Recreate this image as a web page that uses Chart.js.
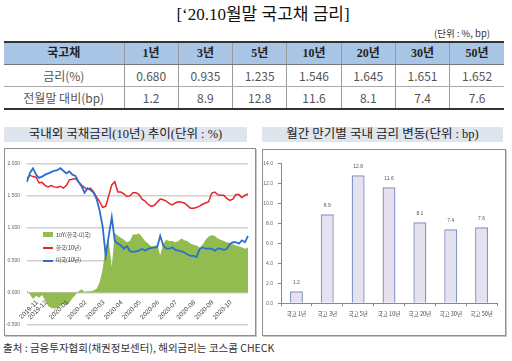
<!DOCTYPE html>
<html><head><meta charset="utf-8">
<script src="https://cdn.jsdelivr.net/npm/chart.js@4.4.0/dist/chart.umd.min.js"></script>
<style>
html,body{margin:0;padding:0;background:#fff;}
#root{position:relative;width:512px;height:361px;overflow:hidden;font-family:"Noto Sans CJK KR",sans-serif;}
.abs{position:absolute;}
#title{left:0;width:526px;top:4px;text-align:center;font-family:"Liberation Serif","Noto Sans CJK KR",serif;font-size:17px;line-height:22px;color:#111;}
#unit{left:434px;top:27px;font-size:9.5px;line-height:12px;color:#333;white-space:nowrap;}
#tbl{left:4px;top:41px;width:500px;border-collapse:collapse;table-layout:fixed;}
#tbl td,#tbl th{padding:0;text-align:center;border-left:1px solid #9a9a9a;font-size:12px;line-height:21px;white-space:nowrap;}
#tbl tr>*:first-child{border-left:none;}
#tbl th{background:#a9c5e6;font-family:"Liberation Serif","Noto Sans CJK KR",serif;font-weight:bold;color:#222;border-top:2px solid #333;border-bottom:1px solid #777;height:21px;}
#tbl td{color:#555;border-bottom:1px solid #aaa;height:21px;}
#tbl tr.last td{border-bottom:2px solid #333;}
.ptitle{top:127px;height:15px;background:#dfe5ee;text-align:center;font-size:12.5px;line-height:15px;color:#222;font-family:"Liberation Serif","Noto Sans CJK KR",serif;white-space:nowrap;}
.box{border:1px solid #8f8f8f;box-shadow:1px 1px 0 #c8c8c8;}
#leg{left:43px;top:229px;font-size:5.5px;line-height:12.5px;color:#333;}
#leg div{position:relative;height:12.5px;padding-left:13px;white-space:nowrap;}
#leg span{position:absolute;left:0;}
#foot{left:3px;top:340px;font-size:10.5px;line-height:15px;color:#333;white-space:nowrap;}
</style></head>
<body>
<div id="root">
  <div id="title" class="abs">[‘20.10월말 국고채 금리]</div>
  <div id="unit" class="abs">(단위 : %, bp)</div>
  <table id="tbl" class="abs">
    <colgroup><col style="width:120px"><col><col><col><col><col><col><col></colgroup>
    <tr id="hdr"></tr>
    <tr id="r1"></tr>
    <tr id="r2" class="last"></tr>
  </table>

  <div class="abs ptitle" style="left:4px;width:243px;">국내외 국채금리(10년) 추이(단위 : %)</div>
  <div class="abs ptitle" style="left:262px;width:241px;">월간 만기별 국내 금리 변동(단위 : bp)</div>

  <div class="abs box" style="left:4px;top:148px;width:250px;height:186px;"></div>
  <div class="abs box" style="left:262px;top:149px;width:242px;height:185px;"></div>

  <div class="abs" style="left:5px;top:149px;width:249px;height:186px;"><canvas id="c1" width="249" height="186"></canvas></div>
  <div class="abs" style="left:263px;top:150px;width:241px;height:185px;"><canvas id="c2" width="241" height="185"></canvas></div>

  <div id="leg" class="abs">
    <div><span style="top:3px;width:10px;height:5px;background:#92bb50;"></span>10Y(한국-미국)</div>
    <div><span style="top:5.5px;width:10px;height:2px;background:#e3262b;"></span>한국(10년)</div>
    <div><span style="top:5.5px;width:10px;height:2px;background:#2a6fd1;"></span>미국(10년)</div>
  </div>

  <div id="foot" class="abs">출처 : 금융투자협회(채권정보센터), 해외금리는 코스콤 CHECK</div>
</div>
<script>
// ---- table data ----
const tenors = ['1년','3년','5년','10년','20년','30년','50년'];
const rates = ['0.680','0.935','1.235','1.546','1.645','1.651','1.652'];
const changeBp = [1.2, 8.9, 12.8, 11.6, 8.1, 7.4, 7.6];

// ---- line chart data (sampled every 5 days from 2019-11-01) ----
const korea10y = [1.77,1.82,1.80,1.79,1.70,1.71,1.66,1.64,1.66,1.64,1.63,1.65,1.62,1.66,1.75,1.76,1.77,1.72,1.67,1.63,
  1.60,1.62,1.56,1.48,1.41,1.32,1.34,1.50,1.67,1.72,1.56,1.56,1.53,1.49,1.50,1.55,1.55,1.52,1.45,1.42,
  1.37,1.34,1.35,1.40,1.45,1.44,1.42,1.38,1.36,1.39,1.41,1.40,1.39,1.35,1.31,1.31,1.32,1.34,1.37,1.39,
  1.41,1.54,1.56,1.52,1.51,1.51,1.46,1.43,1.45,1.52,1.52,1.47,1.51,1.53];
const us10y = [1.72,1.86,1.93,1.83,1.78,1.80,1.83,1.85,1.87,1.89,1.90,1.93,1.89,1.85,1.88,1.83,1.81,1.72,1.65,1.55,
  1.62,1.59,1.55,1.45,1.27,1.02,0.57,0.88,1.17,0.80,0.76,0.73,0.68,0.72,0.64,0.63,0.64,0.65,0.68,0.65,
  0.68,0.69,0.70,0.70,0.88,0.73,0.68,0.68,0.70,0.66,0.65,0.64,0.62,0.59,0.57,0.57,0.55,0.67,0.70,0.68,
  0.68,0.68,0.65,0.68,0.68,0.66,0.68,0.75,0.78,0.78,0.76,0.81,0.78,0.88];
const spread10y = [0.03,-0.03,-0.10,-0.05,-0.08,-0.04,-0.12,-0.21,-0.24,-0.25,-0.24,-0.21,-0.17,-0.20,-0.16,-0.09,-0.04,0.02,0.05,0.01,
  0.02,0.02,0.03,0.06,0.16,0.36,0.72,0.80,0.40,0.92,0.88,0.85,0.82,0.78,0.80,0.90,0.90,0.92,0.86,0.80,
  0.76,0.72,0.72,0.74,0.58,0.76,0.82,0.80,0.80,0.78,0.80,0.84,0.81,0.80,0.76,0.74,0.73,0.70,0.74,0.82,
  0.87,0.89,0.88,0.84,0.82,0.80,0.78,0.77,0.75,0.73,0.72,0.70,0.68,0.70];
const yTicksLeft = [-0.5, 0, 0.5, 1.0, 1.5, 2.0];

// ---- bar chart data ----
const barCategories = ['국고 1년','국고 3년','국고 5년','국고 10년','국고 20년','국고 30년','국고 50년'];
const barValues = changeBp;

// build table
(function(){
  const h = document.getElementById('hdr');
  h.innerHTML = '<th>국고채</th>' + tenors.map(t=>'<th>'+t+'</th>').join('');
  document.getElementById('r1').innerHTML = '<td>금리(%)</td>' + rates.map(v=>'<td>'+v+'</td>').join('');
  document.getElementById('r2').innerHTML = '<td>전월말 대비(bp)</td>' + changeBp.map(v=>'<td>'+v.toFixed(1)+'</td>').join('');
})();

// date categories
const dateLabels = [];
(function(){
  const start = Date.UTC(2019,10,1);
  for (let i=0;i<korea10y.length;i++){
    const d = new Date(start + i*5*86400000);
    dateLabels.push(d.toISOString().slice(0,10));
  }
})();

const monthLabelPlugin = {
  id:'monthLabels',
  afterDraw(chart){
    const xs = chart.scales.x, ys = chart.scales.y, ctx = chart.ctx;
    const y0 = ys.getPixelForValue(0);
    ctx.save();
    ctx.font = '6.5px "Liberation Sans", sans-serif';
    ctx.fillStyle = '#444';
    ctx.textAlign = 'right';
    ctx.textBaseline = 'middle';
    let prev = '';
    dateLabels.forEach((d,i)=>{
      const m = d.slice(0,7);
      if (m !== prev){
        const first = prev === '';
        prev = m;
        const x = xs.getPixelForValue(first ? 3 : i);
        ctx.save();
        ctx.translate(x + 1, y0 + 9);
        ctx.rotate(-Math.PI/4);
        ctx.fillText(m, 0, 0);
        ctx.restore();
      }
    });
    ctx.restore();
  }
};

new Chart(document.getElementById('c1'), {
  type:'line',
  data:{
    labels: dateLabels,
    datasets:[
      {label:'10Y(한국-미국)', data: spread10y, fill:'origin', backgroundColor:'#92bb50', borderWidth:0, pointRadius:0, order:3},
      {label:'한국(10년)', data: korea10y, borderColor:'#e3262b', borderWidth:1.5, pointRadius:0, fill:false, order:2},
      {label:'미국(10년)', data: us10y, borderColor:'#2a6fd1', borderWidth:1.8, pointRadius:0, fill:false, order:1}
    ]
  },
  options:{
    responsive:false, animation:false,
    layout:{padding:{left:0,right:6,top:14.7,bottom:10.3}},
    plugins:{legend:{display:false}, tooltip:{enabled:false}},
    scales:{
      x:{display:false},
      y:{
        min:-0.5, max:2.0,
        afterFit(s){ s.width = 22; },
        afterBuildTicks(s){ s.ticks = yTicksLeft.map(v=>({value:v})); },
        grid:{color:'#cfcfcf', lineWidth:1.5, drawTicks:false},
        border:{display:false},
        ticks:{padding:7, color:'#666', font:{size:5, family:'"Liberation Sans", sans-serif'}, callback:v=>Number(v).toFixed(3)}
      }
    }
  },
  plugins:[monthLabelPlugin]
});

const barLabelPlugin = {
  id:'barLabels',
  afterDatasetsDraw(chart){
    const ctx = chart.ctx;
    const meta = chart.getDatasetMeta(0);
    ctx.save();
    ctx.font = '5px "Liberation Sans", sans-serif';
    ctx.fillStyle = '#555';
    ctx.textAlign = 'center';
    ctx.textBaseline = 'bottom';
    meta.data.forEach((el,i)=>{
      ctx.fillText(barValues[i].toFixed(1), el.x, el.y - 6);
    });
    ctx.restore();
  }
};

new Chart(document.getElementById('c2'), {
  type:'bar',
  data:{
    labels: barCategories,
    datasets:[{data: barValues, backgroundColor:'#e6e1f0', borderColor:'#8496c2', borderWidth:1.4, borderSkipped:'bottom', barPercentage:0.6, categoryPercentage:0.7}]
  },
  options:{
    responsive:false, animation:false,
    layout:{padding:{left:0,right:7,top:13.3,bottom:0}},
    plugins:{legend:{display:false}, tooltip:{enabled:false}},
    scales:{
      x:{
        afterFit(s){ s.height = 31.7; },
        grid:{display:true, drawOnChartArea:false, drawTicks:true, tickLength:3, color:'#888', offset:true},
        border:{display:true, color:'#888', width:1},
        ticks:{padding:4, color:'#444', maxRotation:0, minRotation:0, font:{size:5.5, family:'"Noto Sans CJK KR", sans-serif'}}
      },
      y:{
        min:0, max:14,
        afterFit(s){ s.width = 18; },
        grid:{display:true, drawOnChartArea:false, drawTicks:true, tickLength:3, color:'#888'},
        border:{display:true, color:'#888', width:1},
        ticks:{stepSize:2, padding:5, color:'#666', font:{size:5, family:'"Liberation Sans", sans-serif'}, callback:v=>Number(v).toFixed(1)}
      }
    }
  },
  plugins:[barLabelPlugin]
});
</script>
</body></html>
